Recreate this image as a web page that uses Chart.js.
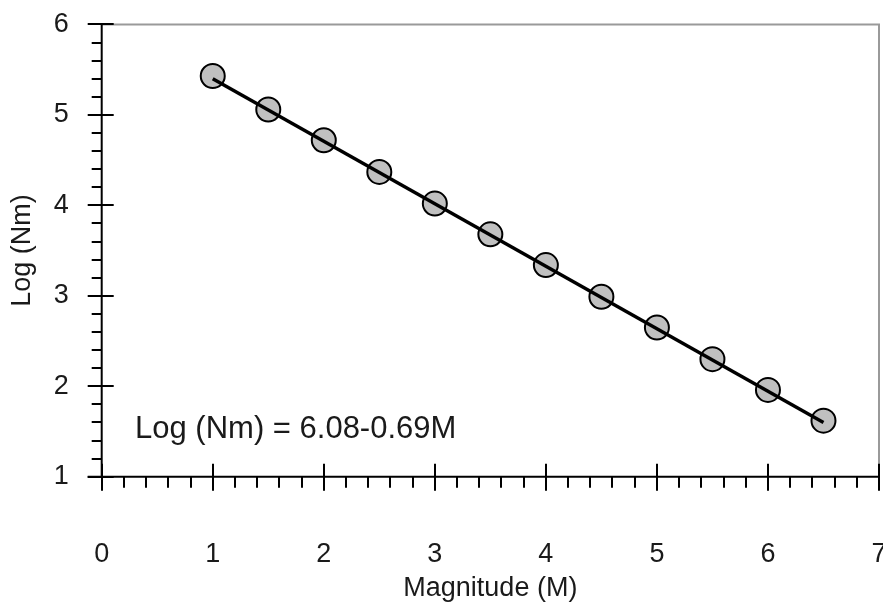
<!DOCTYPE html>
<html>
<head>
<meta charset="utf-8">
<script src="https://cdn.jsdelivr.net/npm/chart.js@4"></script>
<style>
  html, body { margin: 0; padding: 0; background: #fff; }
  #wrap { width: 883px; height: 605px; }
</style>
</head>
<body>
<div id="wrap"><canvas id="chart" width="883" height="605"></canvas></div>
<script>
// magnitude classes and observed log(Nm)
const magnitudes = [1, 1.5, 2, 2.5, 3, 3.5, 4, 4.5, 5, 5.5, 6, 6.5];
const logNm = [5.43, 5.06, 4.72, 4.37, 4.02, 3.68, 3.34, 2.99, 2.65, 2.30, 1.96, 1.62];

// fitted line end points
const fitX = [1, 6.5];
const fitY = [5.40, 1.60];

const xTicks = [0, 1, 2, 3, 4, 5, 6, 7];
const yTicks = [1, 2, 3, 4, 5, 6];
const equationText = 'Log (Nm) = 6.08-0.69M';

const FONT = "'Liberation Sans', Arial, sans-serif";
const TEXT = '#1a1a1a';

// frame + crossing tick marks, drawn from the scales
const axisFrame = {
    id: 'axisFrame',
    beforeDatasetsDraw(chart) {
        const { ctx, chartArea: a, scales: { x, y } } = chart;
        ctx.save();
        // grey top/right border
        ctx.strokeStyle = '#9a9a9a';
        ctx.lineWidth = 2;
        ctx.beginPath();
        ctx.moveTo(a.left, a.top);
        ctx.lineTo(a.right, a.top);
        ctx.lineTo(a.right, a.bottom);
        ctx.stroke();

        ctx.strokeStyle = '#000';
        ctx.lineWidth = 2;
        ctx.beginPath();
        ctx.moveTo(a.left, a.top);
        ctx.lineTo(a.left, a.bottom);
        ctx.moveTo(a.left - 14, a.bottom);
        ctx.lineTo(a.right, a.bottom);
        ctx.stroke();

        // x ticks: majors cross, minors below
        ctx.beginPath();
        for (let v = x.min; v <= x.max + 1e-6; v += 0.2) {
            const px = Math.round(x.getPixelForValue(v));
            const major = Math.abs(v - Math.round(v)) < 1e-6;
            ctx.moveTo(px, a.bottom + (major ? 14 : 11));
            ctx.lineTo(px, major ? a.bottom - 13 : a.bottom);
        }
        // y ticks: majors cross, minors left
        for (let v = y.min; v <= y.max + 1e-6; v += 0.2) {
            const py = Math.round(y.getPixelForValue(v));
            const major = Math.abs(v - Math.round(v)) < 1e-6;
            ctx.moveTo(a.left - (major ? 14 : 10), py);
            ctx.lineTo(major ? a.left + 12 : a.left, py);
        }
        ctx.stroke();

        // equation label
        ctx.fillStyle = TEXT;
        ctx.font = '31px ' + FONT;
        ctx.textAlign = 'left';
        ctx.textBaseline = 'alphabetic';
        ctx.fillText(equationText, x.getPixelForValue(0.3), y.getPixelForValue(1.43));
        ctx.restore();
    }
};

const ctx = document.getElementById('chart').getContext('2d');
new Chart(ctx, {
    type: 'scatter',
    data: {
        datasets: [
            {
                label: 'fit',
                data: fitX.map((v, i) => ({ x: v, y: fitY[i] })),
                showLine: true,
                borderColor: '#000',
                borderWidth: 3.5,
                pointRadius: 0,
                fill: false
            },
            {
                label: 'observed',
                data: magnitudes.map((v, i) => ({ x: v, y: logNm[i] })),
                pointRadius: 12,
                pointBackgroundColor: '#c0c0c0',
                pointBorderColor: '#000',
                pointBorderWidth: 2
            }
        ]
    },
    options: {
        responsive: false,
        animation: false,
        // big markers would otherwise shrink the plot area
        layout: { autoPadding: false, padding: { top: 24.5, right: 4, left: 0, bottom: 0 } },
        plugins: {
            legend: { display: false },
            tooltip: { enabled: false }
        },
        scales: {
            x: {
                type: 'linear',
                min: 0,
                max: 7,
                afterBuildTicks: s => { s.ticks = xTicks.map(v => ({ value: v })); },
                afterFit: s => { s.height = 128.3; s.paddingLeft = 0; s.paddingRight = 0; },
                grid: { display: false, drawTicks: false },
                border: { display: false },
                ticks: { padding: 62, color: TEXT, font: { family: FONT, size: 27 }, maxRotation: 0 },
                title: {
                    display: true,
                    text: 'Magnitude (M)',
                    color: TEXT,
                    font: { family: FONT, size: 27 },
                    padding: { top: 0, bottom: 0 }
                }
            },
            y: {
                type: 'linear',
                min: 1,
                max: 6,
                afterBuildTicks: s => { s.ticks = yTicks.map(v => ({ value: v })); },
                afterFit: s => { s.width = 101.7; s.paddingTop = 0; s.paddingBottom = 0; },
                grid: { display: false, drawTicks: false },
                border: { display: false },
                ticks: { padding: 33, color: TEXT, font: { family: FONT, size: 27 } },
                title: {
                    display: true,
                    text: 'Log (Nm)',
                    color: TEXT,
                    font: { family: FONT, size: 27 },
                    padding: { top: 6, bottom: 0 }
                }
            }
        }
    },
    plugins: [axisFrame]
});
</script>
</body>
</html>
